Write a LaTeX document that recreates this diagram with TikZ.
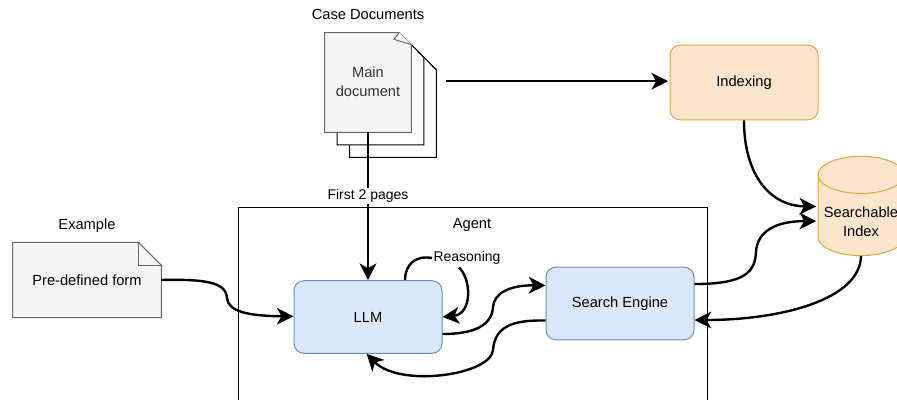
\documentclass[tikz,border=0pt]{standalone}
\usepackage{fontspec}
\setmainfont{Liberation Sans}
\usepackage{xcolor}
\usetikzlibrary{shapes,shapes.geometric,arrows.meta,positioning}
\definecolor{bluefill}{RGB}{218, 232, 252}
\definecolor{bluedraw}{RGB}{108, 142, 191}
\definecolor{orangefill}{RGB}{251, 229, 205}
\definecolor{orangedraw}{RGB}{222, 166, 60}
\definecolor{docfill}{RGB}{245, 245, 245}
\definecolor{docdraw}{RGB}{102, 102, 102}
\tikzstyle{arrow} = [
    line width=1.8pt,
    -{Stealth[length=12.5pt,width=12.5pt,inset=3.5pt]},
    draw=black
]
\tikzstyle{engine} = [
    rectangle,
    rounded corners=7.5pt,
    minimum width=111pt,
    minimum height=54.5pt,
    text centered,
    line width=0.75pt,
    draw=bluedraw,
    fill=bluefill
]
\tikzstyle{indexer} = [
    engine,
    draw=orangedraw,
    fill=orangefill,
    minimum height=56pt
]
\tikzstyle{page} = [
    rectangle,
    inner sep=0pt,
    minimum width=64.5pt,
    minimum height=74.5pt
]
\tikzstyle{caption} = [
    inner sep=1pt,
    font=\fontsize{11}{14}\selectfont,
    align=center
]
% outline of a sheet with a cut corner, drawn on an empty node
\newcommand{\sheet}[3]{
    \draw[#3] (#1.north west) -- ([xshift=-#2]#1.north east)
        -- ([yshift=-#2]#1.north east) -- (#1.south east)
        -- (#1.south west) -- cycle;
}

\begin{document}
\begin{tikzpicture}[x=0.75pt,y=-0.75pt,font=\fontsize{11}{14}\selectfont]
    \useasboundingbox (0,0) rectangle (897,400);

    % agent frame runs off the page
    \node[caption] (agent) at (472,225) {Agent};
    \coordinate (agenttl) at (238,207);
    \coordinate (agentbr) at (707,420);
    \draw[line width=0.75pt] (agenttl) rectangle (agentbr);

    % document stack
    \node[page] (pagethree) at (393,107.5) {};
    \node[page] (pagetwo) at (380.5,95) {};
    \node[page] (docmain) at (368,82.5) {};
    \sheet{pagethree}{9pt}{fill=white,line width=0.75pt}
    \draw[line width=0.75pt] ([xshift=-4.5pt,yshift=-5pt]pagethree.north east) -- ([yshift=-9pt]pagethree.north east);
    \sheet{pagetwo}{9pt}{fill=white,line width=0.75pt}
    \draw[line width=0.75pt] ([xshift=-4.5pt,yshift=-5pt]pagetwo.north east) -- ([yshift=-9pt]pagetwo.north east);
    \sheet{docmain}{9pt}{fill=docfill,draw=docdraw,line width=0.75pt}
    \draw[docdraw,line width=0.75pt,fill=white] ([xshift=-9pt]docmain.north east) -- ([xshift=-13pt,yshift=-5pt]docmain.north east) -- ([yshift=-9pt]docmain.north east);
    \node[caption,text=black!80] (doctext) at (368,82) {Main\\document};
    \node[caption] (casedocs) at (368,14.5) {Case Documents};

    % form sheet
    \node[page,minimum width=111pt,minimum height=56pt] (form) at (87,280) {};
    \sheet{form}{17pt}{fill=docfill,draw=docdraw,line width=0.75pt}
    \draw[docdraw,line width=0.75pt] ([xshift=-17pt]form.north east) -- ([xshift=-17pt,yshift=-17pt]form.north east) -- ([yshift=-17pt]form.north east);
    \node[caption] (formtext) at (form) {Pre-defined form};
    \node[caption] (example) at (87,226) {Example};

    % main boxes
    \node[engine] (llm) at (368,317) {LLM};
    \node[engine] (search) at (620,303.5) {Search Engine};
    \node[indexer] (indexing) at (744,82.5) {Indexing};
    \node[cylinder,shape border rotate=90,shape aspect=0.5,
        minimum width=64.5pt,minimum height=74.5pt,align=center,inner sep=0pt,
        line width=0.75pt,draw=orangedraw,cylinder uses custom fill,
        cylinder body fill=orangefill,cylinder end fill=orangefill] (index) at (861,215.5)
        {\phantom{Searchable}\\\phantom{Index}};
    \node[caption] (indextext) at (861,222) {Searchable\\Index};
    \node[caption,font=\fontsize{10.5}{12.5}\selectfont] (reasoning) at (467,258) {Reasoning};

    % connectors
    \draw[arrow] (docmain.south) -- node[caption,fill=white,pos=0.43,font=\fontsize{10.5}{12.5}\selectfont] (firstpages) {First 2 pages} (llm.north);
    \draw[arrow] ([xshift=26pt,yshift=1pt]docmain.east) -- ([xshift=-1pt,yshift=1pt]indexing.west);
    \draw[arrow] (indexing.south) .. controls (744,175) and (770,206) .. ([xshift=-1pt,yshift=6.75pt]index.west);
    \draw[arrow] ([yshift=14.6pt]search.east) .. controls (745,284) and (755,272) .. (756,252)
        .. controls (757,232) and (775,221) .. ([xshift=-1pt,yshift=-4.25pt]index.west);
    \draw[arrow] (index.south) .. controls (860,300) and (780,320) .. ([yshift=-12.4pt]search.east);
    \draw[arrow] (form.east) .. controls (205,279) and (226,282) .. (227,298)
        .. controls (228,312) and (250,316) .. ([yshift=0.5pt]llm.west);
    \draw[arrow] ([yshift=-12.75pt]llm.east) .. controls (475,334) and (492,325) .. (493,307)
        .. controls (494,293) and (510,285) .. ([yshift=13.5pt]search.west);
    \draw[arrow] ([yshift=-12.75pt]search.west) .. controls (515,320) and (495,325) .. (493,350)
        .. controls (491,375) and (400,388) .. ([xshift=-1pt]llm.south);
    \draw[line width=1.8pt] ([xshift=27.75pt]llm.north) .. controls (405,265) and (415,255) .. (reasoning.west);
    \draw[arrow] ([xshift=-6pt,yshift=-1pt]reasoning.south) .. controls (472,280) and (472,314) .. (llm.east);
\end{tikzpicture}
\end{document}
